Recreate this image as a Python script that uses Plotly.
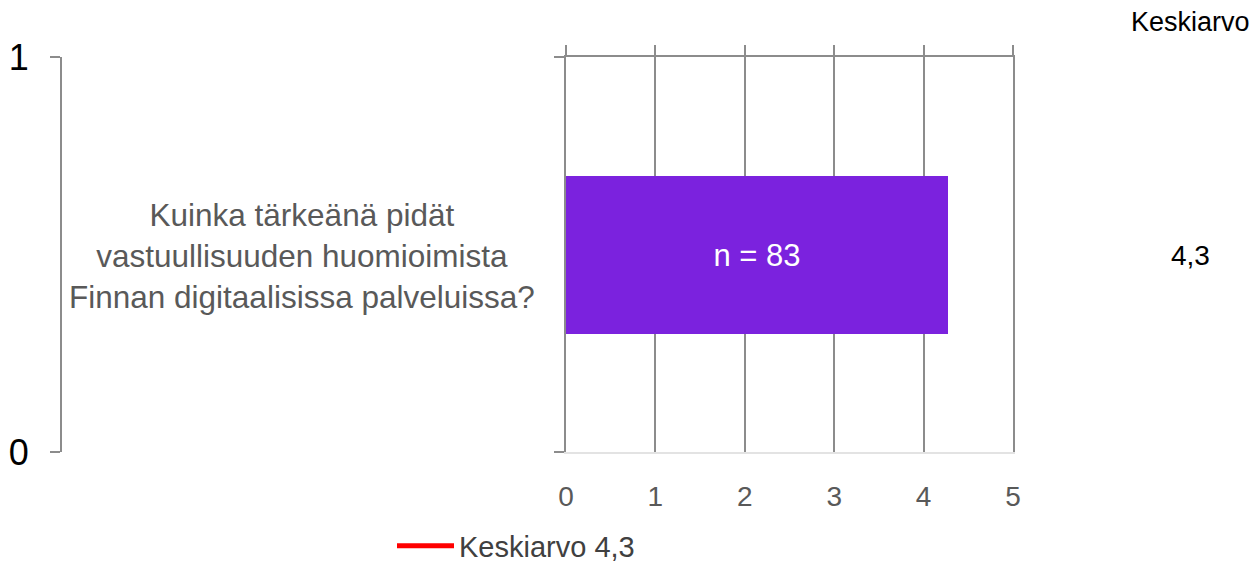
import plotly.graph_objects as go

# Data
question = ["Kuinka tärkeänä pidät", "vastuullisuuden huomioimista", "Finnan digitaalisissa palveluissa?"]
mean_value = [4.27]
n_label = ["n = 83"]
mean_label = "4,3"
legend_label = "Keskiarvo 4,3"
x_ticks = [0, 1, 2, 3, 4, 5]

W, H = 1254, 563
ML, MR, MT, MB = 40, 241, 57, 111
pw = W - ML - MR
ph = H - MT - MB
x0 = (566 - ML) / pw

def px_x(p):
    return (p - ML) / pw

def px_y(p):
    return (H - MB - p) / ph

FONT = "Liberation Sans, Arial, sans-serif"
GRID = "#8c8c8c"

fig = go.Figure()
fig.add_trace(go.Bar(
    x=mean_value, y=[0.5], orientation="h", width=0.4,
    marker=dict(color="#7b22de", line=dict(width=0)),
    text=n_label, textposition="inside", insidetextanchor="middle",
    textfont=dict(color="white", size=31, family=FONT),
    showlegend=False, hoverinfo="skip",
))
fig.add_trace(go.Scatter(
    x=[mean_value[0], mean_value[0]], y=[None, None], mode="lines",
    line=dict(color="#ff0000", width=5), name=legend_label, showlegend=True,
))
fig.add_trace(go.Scatter(x=[0], y=[None], xaxis="x2", yaxis="y", showlegend=False, hoverinfo="skip"))
fig.add_trace(go.Scatter(x=[0], y=[None], xaxis="x", yaxis="y2", showlegend=False, hoverinfo="skip"))

fig.update_layout(
    template="none",
    width=W, height=H,
    margin=dict(l=ML, r=MR, t=MT, b=MB, autoexpand=False),
    paper_bgcolor="white", plot_bgcolor="white",
    font=dict(family=FONT),
    bargap=0,
    xaxis=dict(
        domain=[x0, 1], range=[0, 5], tickvals=x_ticks, ticktext=[str(v) for v in x_ticks],
        showgrid=True, gridcolor=GRID, gridwidth=2,
        showline=True, linecolor="#e3e3e3", linewidth=2,
        ticks="", zeroline=False, automargin=False,
        tickfont=dict(size=28, color="#595959", family=FONT),
        ticklabelstandoff=18, fixedrange=True,
    ),
    xaxis2=dict(
        overlaying="x", matches="x", side="top", anchor="y", range=[0, 5], tickvals=x_ticks,
        showticklabels=False, showgrid=False, showline=True, linecolor=GRID, linewidth=2,
        ticks="outside", ticklen=10, tickwidth=2, tickcolor=GRID, zeroline=False, automargin=False,
    ),
    yaxis=dict(
        range=[0, 1], tickvals=[0, 1], showticklabels=False,
        ticks="outside", ticklen=10, tickwidth=2, tickcolor=GRID,
        showgrid=False, zeroline=False, showline=True, mirror=True,
        linecolor=GRID, linewidth=2, fixedrange=True, automargin=False,
    ),
    yaxis2=dict(
        overlaying="y", anchor="free", position=px_x(61), side="left",
        range=[0, 1], tickvals=[0, 1], ticktext=["0", "1"],
        ticks="outside", ticklen=10, tickwidth=2, tickcolor=GRID,
        showline=True, linecolor=GRID, linewidth=2, showgrid=False, zeroline=False,
        tickfont=dict(size=36, color="black", family=FONT), ticklabelstandoff=14, automargin=False,
    ),
    legend=dict(
        orientation="h", x=px_x(392), y=px_y(546), xanchor="left", yanchor="middle",
        font=dict(size=29, color="#404040", family=FONT), bgcolor="rgba(0,0,0,0)",
        itemwidth=57,
    ),
    annotations=[
        dict(text="<br>".join(question), xref="paper", yref="paper",
             x=px_x(302), y=px_y(256), xanchor="center", yanchor="middle",
             showarrow=False, align="center",
             font=dict(size=31.5, color="#595959", family=FONT)),
        dict(text="Keskiarvo", xref="paper", yref="paper", x=px_x(1190), y=px_y(22),
             xanchor="center", yanchor="middle", showarrow=False,
             font=dict(size=27, color="black", family=FONT)),
        dict(text=mean_label, xref="paper", yref="paper", x=px_x(1190), y=px_y(255),
             xanchor="center", yanchor="middle", showarrow=False,
             font=dict(size=28, color="black", family=FONT)),
    ],
)

fig.write_html("out.html", config={"displayModeBar": False},
               post_script="document.body.style.margin='0';document.body.style.overflow='hidden';")
